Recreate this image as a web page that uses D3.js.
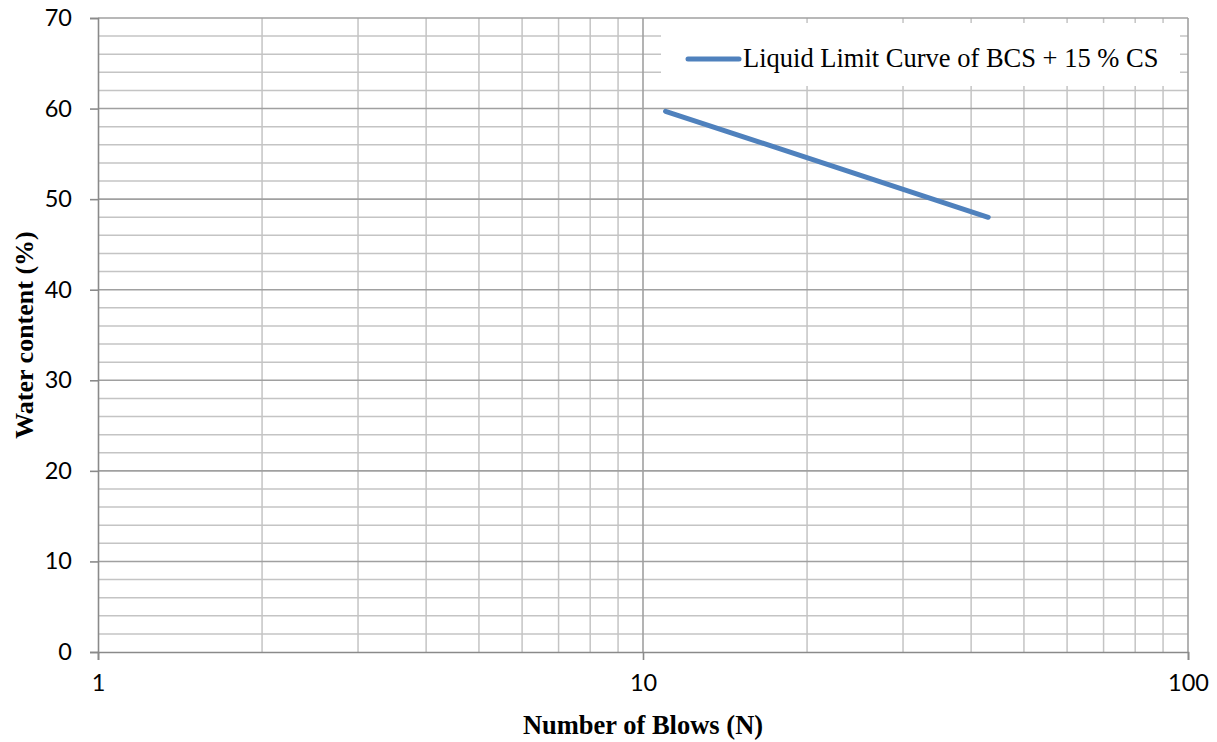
<!DOCTYPE html>
<html>
<head>
<meta charset="utf-8">
<script src="https://cdn.jsdelivr.net/npm/d3@7"></script>
<style>
  html, body { margin: 0; padding: 0; background: #fff; }
  svg { display: block; }
</style>
</head>
<body>
<svg id="chart" width="1217" height="742"></svg>
<script>
// Liquid limit flow curve: water content vs. number of blows (log scale)
const seriesName = "Liquid Limit Curve of BCS + 15 % CS";
const blows = [11, 43];
const waterContent = [59.7, 48.0];
const xTickValues = [1, 10, 100];
const yTickValues = [0, 10, 20, 30, 40, 50, 60, 70];
const xTitle = "Number of Blows (N)";
const yTitle = "Water content (%)";

const svg = d3.select("#chart");
const plot = { left: 98, right: 1188, top: 18, bottom: 652 };

const x = d3.scaleLog().domain([1, 100]).range([plot.left, plot.right]);
const y = d3.scaleLinear().domain([0, 70]).range([plot.bottom, plot.top]);

const tickFont = "Lato, 'Open Sans', sans-serif";
const serif = "'Liberation Serif', 'Times New Roman', serif";

// Minor grid: horizontal every 2 units, vertical at 2..9 of each decade
const minorY = d3.range(0, 71, 2).filter(v => v % 10 !== 0);
const minorX = [];
[1, 10].forEach(d => { for (let k = 2; k <= 9; k++) minorX.push(d * k); });

const grid = svg.append("g");
grid.selectAll("line.my").data(minorY).join("line")
  .attr("x1", plot.left).attr("x2", plot.right)
  .attr("y1", d => y(d)).attr("y2", d => y(d))
  .attr("stroke", "#c4c4c4").attr("stroke-width", 1.5);
grid.selectAll("line.mx").data(minorX).join("line")
  .attr("x1", d => x(d)).attr("x2", d => x(d))
  .attr("y1", plot.top).attr("y2", plot.bottom)
  .attr("stroke", "#c4c4c4").attr("stroke-width", 1.5);
// Major grid
grid.selectAll("line.My").data(yTickValues.filter(v => v > 0)).join("line")
  .attr("x1", plot.left).attr("x2", plot.right)
  .attr("y1", d => y(d)).attr("y2", d => y(d))
  .attr("stroke", "#a0a0a0").attr("stroke-width", 1.6);
grid.selectAll("line.Mx").data(xTickValues.filter(v => v > 1)).join("line")
  .attr("x1", d => x(d)).attr("x2", d => x(d))
  .attr("y1", plot.top).attr("y2", plot.bottom)
  .attr("stroke", "#a0a0a0").attr("stroke-width", 1.6);

// Axes
const xAxis = d3.axisBottom(x).tickValues(xTickValues).tickFormat(d3.format("d"))
  .tickSize(8).tickPadding(14);
const yAxis = d3.axisLeft(y).tickValues(yTickValues).tickFormat(d3.format("d"))
  .tickSize(8).tickPadding(18);

const gx = svg.append("g").attr("transform", `translate(0,${plot.bottom})`).call(xAxis);
const gy = svg.append("g").attr("transform", `translate(${plot.left},0)`).call(yAxis);
[gx, gy].forEach(g => {
  g.selectAll(".domain").attr("stroke", "#8a8a8a").attr("stroke-width", 1.6);
  g.selectAll(".tick line").attr("stroke", "#8a8a8a").attr("stroke-width", 1.6);
  g.selectAll(".tick text").attr("font-family", tickFont).attr("font-size", 23.5).attr("fill", "#000");
});

// Data line
const pts = blows.map((b, i) => [b, waterContent[i]]);
svg.append("path")
  .datum(pts)
  .attr("d", d3.line().x(d => x(d[0])).y(d => y(d[1])))
  .attr("fill", "none")
  .attr("stroke", "#4f81bd")
  .attr("stroke-width", 5)
  .attr("stroke-linecap", "round");

// Legend
const legend = svg.append("g");
legend.append("rect")
  .attr("x", 661).attr("y", 23).attr("width", 519).attr("height", 63)
  .attr("fill", "#fff");
legend.append("line")
  .attr("x1", 688).attr("x2", 739).attr("y1", 59).attr("y2", 59)
  .attr("stroke", "#4f81bd").attr("stroke-width", 5).attr("stroke-linecap", "round");
legend.append("text")
  .attr("x", 743).attr("y", 67)
  .attr("font-family", serif).attr("font-size", 26.5).attr("fill", "#000")
  .text(seriesName);

// Axis titles
svg.append("text")
  .attr("x", (plot.left + plot.right) / 2).attr("y", 734)
  .attr("text-anchor", "middle")
  .attr("font-family", serif).attr("font-weight", "bold").attr("font-size", 26.5)
  .attr("fill", "#000")
  .text(xTitle);
svg.append("text")
  .attr("transform", `translate(33,${(plot.top + plot.bottom) / 2}) rotate(-90)`)
  .attr("text-anchor", "middle")
  .attr("font-family", serif).attr("font-weight", "bold").attr("font-size", 26)
  .attr("fill", "#000")
  .text(yTitle);
</script>
</body>
</html>
